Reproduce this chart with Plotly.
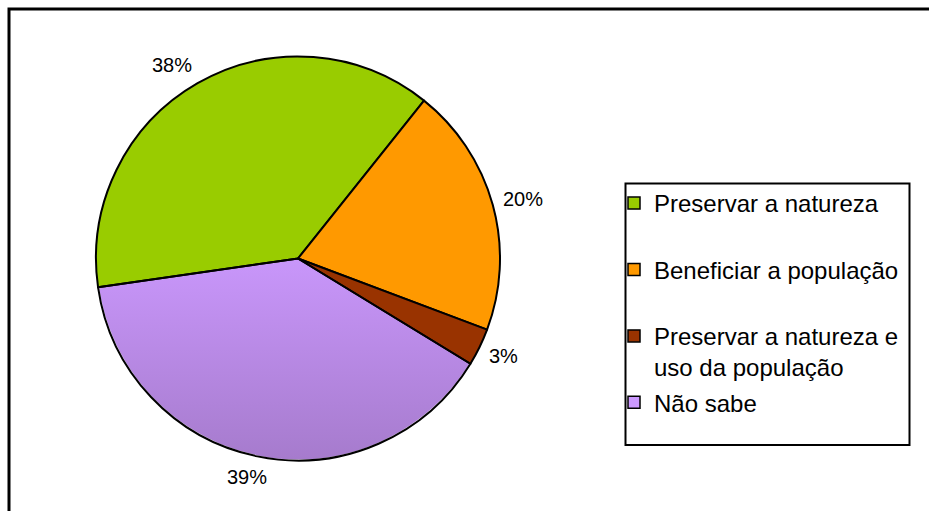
import base64
import numpy as np
import plotly.graph_objects as go

# Survey answers and their shares (%)
labels = ["Preservar a natureza", "Beneficiar a população",
          "Preservar a natureza e uso da população", "Não sabe"]
legend_names = ["Preservar a natureza<br>&nbsp;", "Beneficiar a população<br>&nbsp;",
                "Preservar a natureza e<br>uso da população", "Não sabe<br>&nbsp;"]
values = [38, 20, 3, 39]
pct_text = ["38%", "20%", "3%", "39%"]
slice_colors = ["#99CC00", "#FF9900", "#993300", "#CC99FF"]

W, H = 929, 511
FONT = "Liberation Sans, Arial, sans-serif"
LABEL_SIZE = 20

# pie box in pixels
pie_l, pie_r, pie_t, pie_b = 96, 500, 56.5, 460.5
dom_x = [pie_l / W, pie_r / W]
dom_y = [1 - pie_b / H, 1 - pie_t / H]
rotation = 261.8

# the last slice gets a vertical gradient from a circle painted underneath
fills = slice_colors[:3] + ["rgba(0,0,0,0)"]
grad_svg = (
    '<svg xmlns="http://www.w3.org/2000/svg" width="400" height="400">'
    '<defs><linearGradient id="g" x1="0" y1="0" x2="0" y2="1">'
    '<stop offset="0.45" stop-color="#CC99FF"/>'
    '<stop offset="1" stop-color="#A67BCD"/></linearGradient></defs>'
    '<circle cx="200" cy="200" r="199" fill="url(#g)"/></svg>'
)
grad_uri = "data:image/svg+xml;base64," + base64.b64encode(grad_svg.encode()).decode()

fig = go.Figure()
fig.add_trace(go.Pie(
    labels=labels, values=values, sort=False, direction="clockwise",
    rotation=rotation, textinfo="none", hoverinfo="label+percent",
    marker=dict(colors=fills, line=dict(color="black", width=2)),
    domain=dict(x=dom_x, y=dom_y), showlegend=False,
))

# legend entries
for i, (name, col) in enumerate(zip(legend_names, slice_colors)):
    fig.add_trace(go.Scatter(
        x=[None], y=[None], mode="markers", name=name, legendgroup=f"g{i}",
        marker=dict(symbol="square", size=12, color=col,
                    line=dict(color="black", width=1.5)),
        showlegend=True, hoverinfo="skip",
    ))


def text_width(t, size):
    # rough Arial advance widths
    return sum((0.889 if ch == "%" else 0.556) for ch in t) * size


# percentage labels just outside each slice, along its mid-angle;
# the label box is pushed outward so its near edge sits a small gap off the rim
cx = (pie_l + pie_r) / 2
cy = (pie_t + pie_b) / 2
rad = (pie_r - pie_l) / 2
gap = 11
label_h = 20
total = sum(values)
cum = np.cumsum([0] + values[:-1])
annotations = []
for v, c0, txt in zip(values, cum, pct_text):
    theta = np.deg2rad(rotation + 360 * (c0 + v / 2) / total)
    s, c = np.sin(theta), np.cos(theta)
    w = text_width(txt, LABEL_SIZE)
    px = cx + (rad + gap) * s + w / 2 * np.clip(2 * s, -1, 1)
    py = cy - (rad + gap) * c - label_h / 2 * c
    annotations.append(dict(
        x=px / W, y=1 - py / H, xref="paper", yref="paper", text=txt,
        showarrow=False, xanchor="center", yanchor="middle",
        font=dict(family=FONT, size=LABEL_SIZE, color="black"),
    ))

fig.update_layout(
    width=W, height=H, margin=dict(l=0, r=0, t=0, b=0),
    paper_bgcolor="white", plot_bgcolor="white",
    xaxis=dict(visible=False), yaxis=dict(visible=False),
    showlegend=True,
    legend=dict(
        x=614 / W, xanchor="left", y=1 - 181 / H, yanchor="top",
        font=dict(family=FONT, size=24, color="black"),
        bgcolor="rgba(0,0,0,0)", borderwidth=0,
        traceorder="grouped", tracegroupgap=1, valign="top",
    ),
    annotations=annotations,
    images=[dict(source=grad_uri, xref="paper", yref="paper",
                 x=dom_x[0], y=dom_y[1], sizex=dom_x[1] - dom_x[0],
                 sizey=dom_y[1] - dom_y[0], xanchor="left", yanchor="top",
                 sizing="stretch", layer="below")],
    shapes=[
        dict(type="rect", xref="paper", yref="paper",
             x0=625.5 / W, x1=909.5 / W, y0=1 - 445 / H, y1=1 - 183.5 / H,
             line=dict(color="black", width=2), fillcolor="rgba(0,0,0,0)"),
        dict(type="rect", xref="paper", yref="paper",
             x0=9 / W, x1=1.05, y0=-0.05, y1=1 - 9 / H,
             line=dict(color="black", width=3), fillcolor="rgba(0,0,0,0)"),
    ],
)

fig.write_html("out.html")
